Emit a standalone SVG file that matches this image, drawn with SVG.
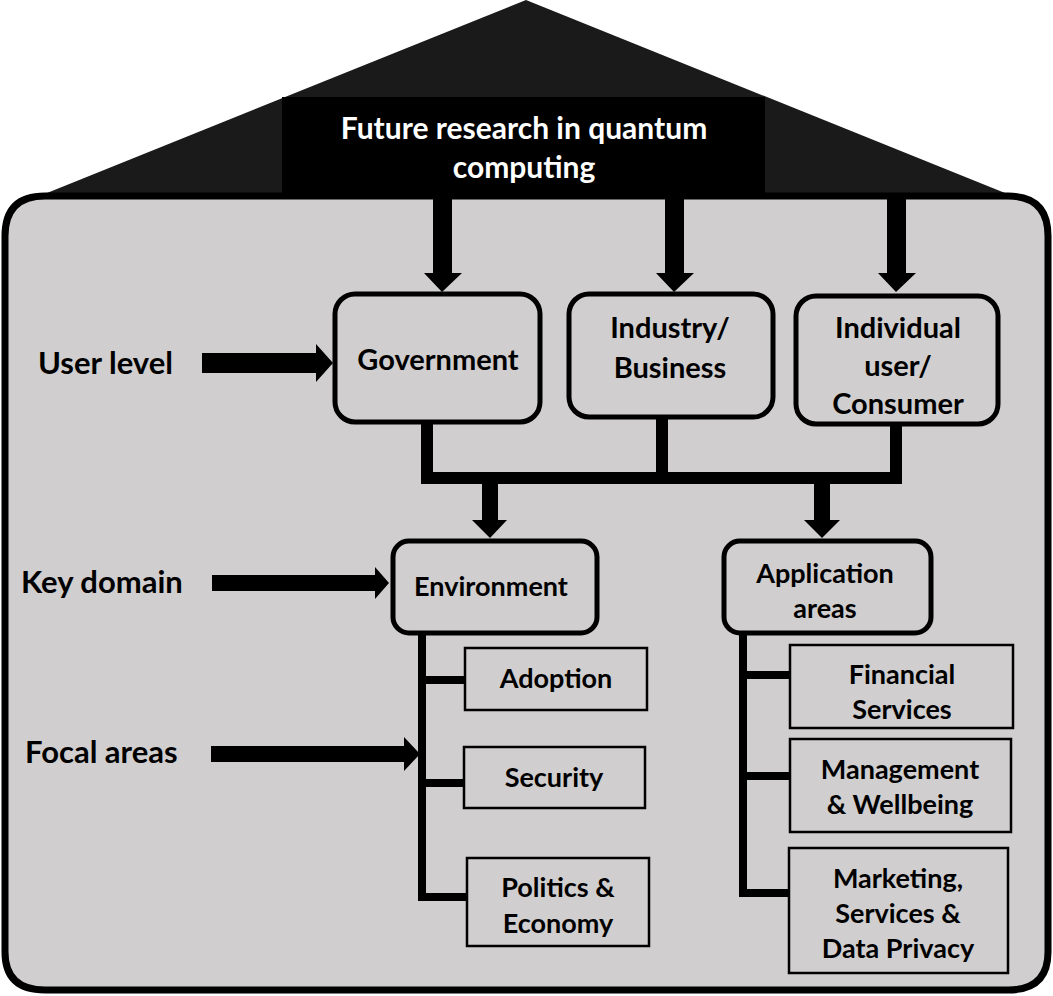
<svg xmlns="http://www.w3.org/2000/svg" width="1053" height="996" viewBox="0 0 1053 996">
<style>
.t{font-family:Lato,"Liberation Sans",sans-serif;font-weight:bold;fill:#000;text-anchor:middle}
.w{fill:#fff}
.lbl{font-size:31px;text-anchor:start}
.big{font-size:29px}
.sm{font-size:27px}
.rbox{fill:#D0CECE;stroke:#000;stroke-width:5}
.sbox{fill:#D0CECE;stroke:#000;stroke-width:2.5}
.ln{stroke:#000;fill:none}
</style>
<rect width="1053" height="996" fill="#fff"/>
<g id="roof">
<polygon points="526,0 47,193 1005,193" fill="#1a1a1a"/>
<rect x="282" y="97" width="483" height="98" fill="#000"/>
<text class="t w" x="524" y="139" font-size="30">Future research in quantum</text>
<text class="t w" x="524" y="178" font-size="30">computing</text>
</g>
<g id="house">
<path d="M5,236 Q5,196 45,196 L1008,196 Q1048,196 1048,236 L1048,952 Q1048,990 1008,990 L45,990 Q5,990 5,952 Z" fill="#D0CECE" stroke="#000" stroke-width="7"/>
</g>
<g id="connectors">
<polygon points="433,199 452,199 452,273 462,273 442,292 424,273 433,273"/>
<polygon points="665,199 684,199 684,273 694,273 674,292 656,273 665,273"/>
<polygon points="887,199 906,199 906,273 916,273 896,292 878,273 887,273"/>
<path class="ln" stroke-width="12" d="M427,423 L427,478 L896,478 L896,425 M662,418 L662,478"/>
<polygon points="482,478 498,478 498,520 507,520 490,538 472,520 482,520"/>
<polygon points="814,478 830,478 830,520 840,520 822,538 804,520 814,520"/>
<path class="ln" stroke-width="8" d="M422,633 L422,897 L466,897 M422,680 L464,680 M422,783 L463,783"/>
<path class="ln" stroke-width="8" d="M743,633 L743,893 L788,893 M743,675 L790,675 M743,776 L790,776"/>
<polygon points="202,353 316,353 316,344 333,363 316,382 316,373 202,373"/>
<polygon points="212,575 375,575 375,567 389,583 375,599 375,591 212,591"/>
<polygon points="211,746 404,746 404,737 420,754 404,771 404,762 211,762"/>
</g>
<g id="labels">
<text class="t lbl" x="38" y="374">User level</text>
<text class="t lbl" x="21" y="593">Key domain</text>
<text class="t lbl" x="25" y="763">Focal areas</text>
</g>
<g id="government">
<rect class="rbox" x="335" y="294" width="205" height="128" rx="20"/>
<text class="t big" x="438" y="370">Government</text>
</g>
<g id="industry">
<rect class="rbox" x="569" y="294" width="204" height="123" rx="20"/>
<text class="t big" x="670" y="338">Industry/</text>
<text class="t big" x="670" y="378">Business</text>
</g>
<g id="individual">
<rect class="rbox" x="796" y="296" width="202" height="128" rx="20"/>
<text class="t big" x="898" y="338">Individual</text>
<text class="t big" x="898" y="376">user/</text>
<text class="t big" x="898" y="414">Consumer</text>
</g>
<g id="environment">
<rect class="rbox" x="393" y="541" width="204" height="92" rx="16"/>
<text class="t sm" x="491" y="596">Environment</text>
</g>
<g id="application">
<rect class="rbox" x="724" y="541" width="207" height="92" rx="16"/>
<text class="t sm" x="825" y="583">Application</text>
<text class="t sm" x="825" y="618">areas</text>
</g>
<g id="adoption">
<rect class="sbox" x="465" y="648" width="182" height="62"/>
<text class="t sm" x="556" y="688">Adoption</text>
</g>
<g id="security">
<rect class="sbox" x="464" y="747" width="181" height="61"/>
<text class="t sm" x="554" y="787">Security</text>
</g>
<g id="politics">
<rect class="sbox" x="467" y="858" width="182" height="88"/>
<text class="t sm" x="558" y="897">Politics &amp;</text>
<text class="t sm" x="558" y="933">Economy</text>
</g>
<g id="financial">
<rect class="sbox" x="790" y="645" width="223" height="83"/>
<text class="t sm" x="902" y="684">Financial</text>
<text class="t sm" x="902" y="719">Services</text>
</g>
<g id="management">
<rect class="sbox" x="790" y="739" width="221" height="93"/>
<text class="t sm" x="900" y="779">Management</text>
<text class="t sm" x="900" y="814">&amp; Wellbeing</text>
</g>
<g id="marketing">
<rect class="sbox" x="789" y="848" width="219" height="125"/>
<text class="t sm" x="898" y="888">Marketing,</text>
<text class="t sm" x="898" y="923">Services &amp;</text>
<text class="t sm" x="898" y="958">Data Privacy</text>
</g>
</svg>
